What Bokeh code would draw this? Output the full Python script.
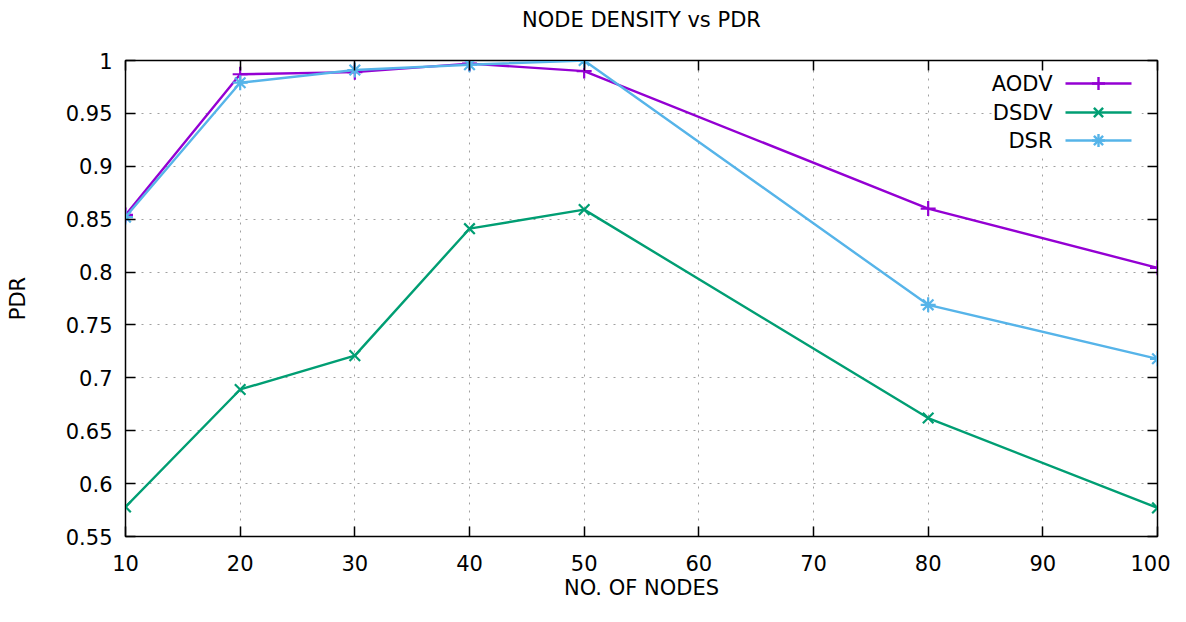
from bokeh.plotting import figure
from bokeh.models import (LinearAxis, FixedTicker, CustomJSTickFormatter, Range1d,
                          Label, Arrow, BoxAnnotation, Title)
from bokeh.embed import file_html
from bokeh.resources import INLINE

# ---- data ----
nodes = [10, 20, 30, 40, 50, 80, 100]
aodv = [0.854, 0.987, 0.989, 0.997, 0.990, 0.860, 0.804]
dsdv = [0.578, 0.689, 0.721, 0.841, 0.859, 0.662, 0.577]
dsr = [0.852, 0.979, 0.991, 0.996, 1.000, 0.769, 0.718]
series_names = ["AODV", "DSDV", "DSR"]
x_ticks = [10, 20, 30, 40, 50, 60, 70, 80, 90, 100]
y_ticks = [0.55, 0.6, 0.65, 0.7, 0.75, 0.8, 0.85, 0.9, 0.95, 1.0]
title_text = "NODE DENSITY vs PDR"
x_label = "NO. OF NODES"
y_label = "PDR"

colors = ["#9400d3", "#009e73", "#56b4e9"]
markers = ["cross", "x", "asterisk"]
FONT = "DejaVu Sans"
FS = "21px"

p = figure(width=1170, height=606, output_backend="svg", toolbar_location=None,
           x_range=Range1d(10, 100), y_range=Range1d(0.55, 1.0),
           min_border_left=125, min_border_right=13, min_border_top=60,
           min_border_bottom=70)
p.title = None

fmt = CustomJSTickFormatter(code="return String(parseFloat(tick.toFixed(2)));")
blank = CustomJSTickFormatter(code="return '';")

for ax in (p.xaxis[0], p.yaxis[0]):
    ax.major_tick_in = 10
    ax.major_tick_out = 0
    ax.minor_tick_line_color = None
    ax.axis_line_color = "#000000"
    ax.major_tick_line_color = "#000000"
    ax.major_tick_line_width = 1.5
    ax.major_label_text_font = FONT
    ax.major_label_text_font_size = FS
    ax.major_label_text_color = "#000000"
    ax.axis_label_text_font = FONT
    ax.axis_label_text_font_size = FS
    ax.axis_label_text_font_style = "normal"
    ax.axis_label_text_color = "#000000"

p.xaxis[0].ticker = FixedTicker(ticks=x_ticks)
p.yaxis[0].ticker = FixedTicker(ticks=y_ticks)
p.yaxis[0].formatter = fmt
p.xaxis[0].axis_label = x_label
p.yaxis[0].axis_label = y_label
p.xaxis[0].major_label_standoff = 18
p.xaxis[0].axis_label_standoff = 2
p.yaxis[0].major_label_standoff = 13
p.yaxis[0].axis_label_standoff = 33

# mirrored axes (top/right) with inward ticks, no labels
top = LinearAxis(ticker=FixedTicker(ticks=x_ticks), formatter=blank,
                 major_tick_in=10, major_tick_out=0, minor_tick_line_color=None,
                 major_label_standoff=0, major_tick_line_width=1.5)
right = LinearAxis(ticker=FixedTicker(ticks=y_ticks), formatter=blank,
                   major_tick_in=10, major_tick_out=0, minor_tick_line_color=None,
                   major_label_standoff=0, major_tick_line_width=1.5)
p.add_layout(top, "above")
p.add_layout(right, "right")

# spacer between the top axis and the title, then the title
p.add_layout(Title(text=" ", text_font_size="20px", standoff=0), "above")
p.add_layout(Title(text=title_text, align="center", text_font=FONT,
                   text_font_size=FS, text_font_style="normal",
                   text_color="#000000", standoff=10), "above")

p.outline_line_color = "#000000"
p.outline_line_width = 1.5

p.xgrid.ticker = FixedTicker(ticks=x_ticks)
p.ygrid.ticker = FixedTicker(ticks=y_ticks)
for g in (p.xgrid[0], p.ygrid[0]):
    g.grid_line_color = "#a0a0a0"
    g.grid_line_dash = "2 6"
    g.grid_line_width = 1

# legend background box (screen units, frame-relative)
p.add_layout(BoxAnnotation(left=868, right=1016, bottom=383, top=467,
                           left_units="screen", right_units="screen",
                           bottom_units="screen", top_units="screen",
                           fill_color="white", fill_alpha=1.0, line_color=None,
                           level="underlay"))

# data series
for vals, name, c, m in zip([aodv, dsdv, dsr], series_names, colors, markers):
    p.line(nodes, vals, line_color=c, line_width=2.4)
    p.scatter(nodes, vals, marker=m, size=15, line_color=c, line_width=2.2)

# custom legend: text right, line sample + marker on right (gnuplot style)
def seg(x0, y0, x1, y1, c):
    p.add_layout(Arrow(x_start=x0, y_start=y0, x_end=x1, y_end=y1,
                       start_units="screen", end_units="screen",
                       start=None, end=None, line_color=c, line_width=2.4))

row_y = [453, 424, 396]
for name, c, m, y in zip(series_names, colors, markers, row_y):
    p.add_layout(Label(x=927, y=y, x_units="screen", y_units="screen", text=name,
                       text_align="right", text_baseline="middle",
                       text_font=FONT, text_font_size=FS, text_color="#000000"))
    seg(940, y, 1006, y, c)
    mx = 973
    if m in ("cross", "asterisk"):
        seg(mx - 6.5, y, mx + 6.5, y, c)
        seg(mx, y - 6.5, mx, y + 6.5, c)
    if m in ("x", "asterisk"):
        seg(mx - 4.6, y - 4.6, mx + 4.6, y + 4.6, c)
        seg(mx - 4.6, y + 4.6, mx + 4.6, y - 4.6, c)

open("out.html", "w").write(file_html(p, INLINE))
